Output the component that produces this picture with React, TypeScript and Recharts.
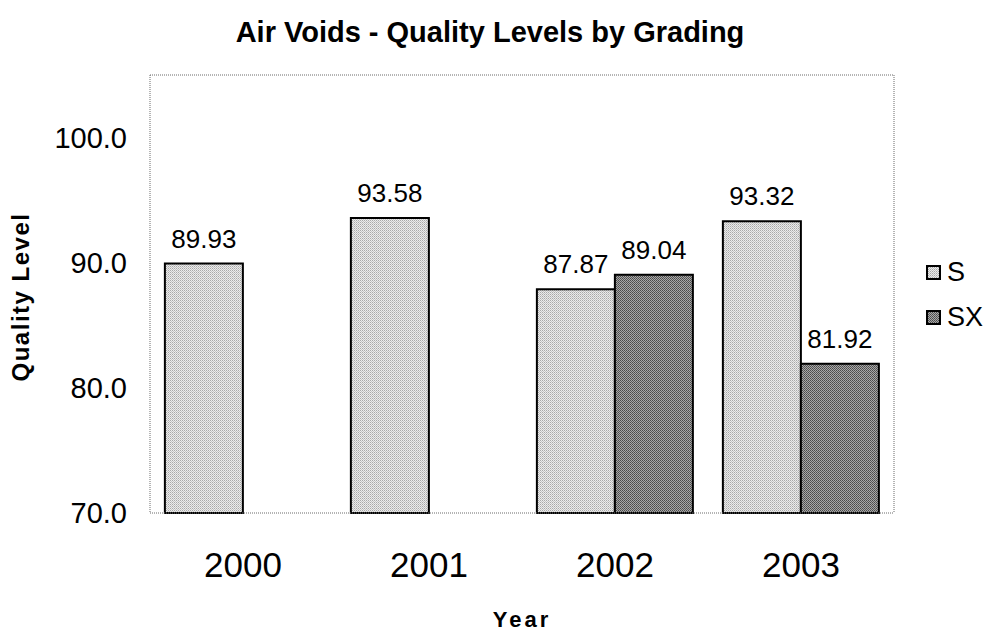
import { Bar, BarChart, LabelList, XAxis, YAxis } from "recharts";

const YEARS = ["2000", "2001", "2002", "2003"];
const S_VALUES = [89.93, 93.58, 87.87, 93.32];
const SX_VALUES: (number | null)[] = [null, null, 89.04, 81.92];
const Y_TICKS = [70, 80, 90, 100];

const FONT = "'Liberation Sans', Arial, sans-serif";
const BORDER = { stroke: "#6a6a6a", strokeWidth: 1, strokeDasharray: "1 1" };

const data = YEARS.map((year, i) => ({ year, S: S_VALUES[i], SX: SX_VALUES[i] }));

const SERIES = [
  { key: "S", fill: "url(#patS)" },
  { key: "SX", fill: "url(#patSX)" },
];

// 엑셀식 점무늬 채우기
function Patterns() {
  return (
    <defs>
      <pattern id="patS" width="2" height="2" patternUnits="userSpaceOnUse">
        <rect width="2" height="2" fill="#ebebeb" />
        <rect x="0" y="0" width="1" height="1" fill="#a8a8a8" />
        <rect x="1" y="1" width="1" height="1" fill="#c4c4c4" />
      </pattern>
      <pattern id="patSX" width="2" height="2" patternUnits="userSpaceOnUse">
        <rect width="2" height="2" fill="#a8a8a8" />
        <rect x="0" y="0" width="1" height="1" fill="#4a4a4a" />
        <rect x="1" y="1" width="1" height="1" fill="#5a5a5a" />
      </pattern>
    </defs>
  );
}

function LegendBox() {
  return (
    <div style={{ position: "absolute", left: 926, top: 250, fontFamily: FONT }}>
      {SERIES.map((s) => (
        <div key={s.key} style={{ display: "flex", alignItems: "center", height: 45 }}>
          <svg width={15} height={15} style={{ marginRight: 6 }}>
            <rect x={1} y={1} width={13} height={13} fill={s.fill} stroke="#000" strokeWidth={2} />
          </svg>
          <span style={{ fontSize: 27, color: "#000" }}>{s.key}</span>
        </div>
      ))}
    </div>
  );
}

export default function App() {
  return (
    <div style={{ position: "absolute", left: 0, top: 0, width: 1003, height: 635, background: "#fff", fontFamily: FONT }}>
      <div
        style={{
          position: "absolute",
          left: 0,
          top: 16,
          width: 980,
          textAlign: "center",
          fontSize: 29,
          lineHeight: "32px",
          fontWeight: "bold",
        }}
      >
        Air Voids - Quality Levels by Grading
      </div>
      <div
        style={{
          position: "absolute",
          left: -129,
          top: 282,
          width: 300,
          height: 30,
          lineHeight: "30px",
          textAlign: "center",
          fontSize: 24,
          fontWeight: "bold",
          letterSpacing: 1.5,
          transform: "rotate(-90deg)",
        }}
      >
        Quality Level
      </div>
      <div
        style={{
          position: "absolute",
          left: 422,
          top: 609,
          width: 200,
          textAlign: "center",
          fontSize: 22,
          lineHeight: "22px",
          fontWeight: "bold",
          letterSpacing: 3,
        }}
      >
        Year
      </div>
      <BarChart
        width={1003}
        height={635}
        data={data}
        margin={{ top: 74, right: 108, left: 80, bottom: 52 }}
        barCategoryGap="8%"
        barGap={0}
      >
        <Patterns />
        <XAxis
          dataKey="year"
          height={70}
          tickLine={false}
          tickSize={0}
          tickMargin={39}
          axisLine={BORDER}
          tick={{ fontSize: 35, fill: "#000", fontFamily: FONT }}
        />
        <XAxis xAxisId="top" dataKey="year" orientation="top" height={1} tick={false} tickLine={false} axisLine={BORDER} />
        <YAxis
          domain={[70, 105]}
          ticks={Y_TICKS}
          width={70}
          tickLine={false}
          tickSize={0}
          tickMargin={23}
          axisLine={BORDER}
          tickFormatter={(v: number) => v.toFixed(1)}
          tick={{ fontSize: 29, fill: "#000", fontFamily: FONT }}
        />
        <YAxis yAxisId="right" orientation="right" domain={[70, 105]} width={1} tick={false} tickLine={false} axisLine={BORDER} />
        {SERIES.map((s) => (
          <Bar key={s.key} dataKey={s.key} fill={s.fill} stroke="#000" strokeWidth={2} isAnimationActive={false}>
            <LabelList
              dataKey={s.key}
              position="top"
              offset={16}
              formatter={(v: any) => (v == null ? "" : Number(v).toFixed(2))}
              style={{ fontSize: 26, fill: "#000", fontFamily: FONT }}
            />
          </Bar>
        ))}
      </BarChart>
      <LegendBox />
    </div>
  );
}
